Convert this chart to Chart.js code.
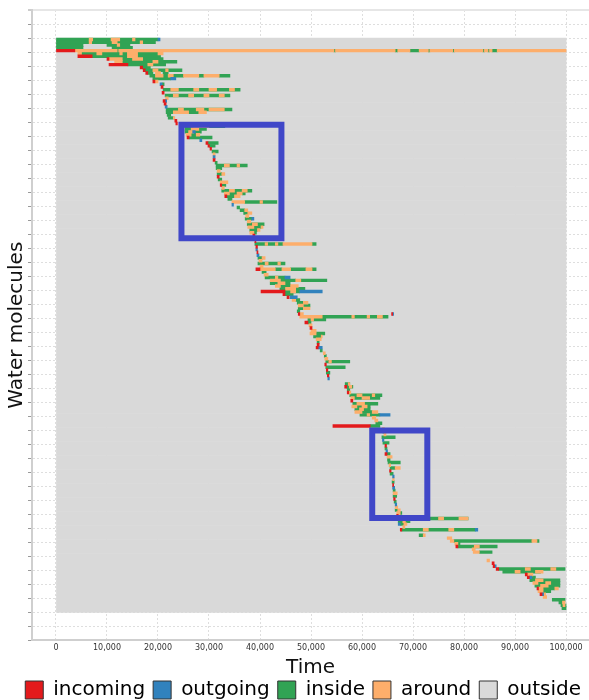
<!DOCTYPE html>
<html>
<head>
<meta charset="utf-8">
<script src="https://cdn.jsdelivr.net/npm/chart.js@4.4.0/dist/chart.umd.min.js"></script>
<style>
  html, body { margin: 0; padding: 0; background: #fff; }
  #wrap { width: 589px; height: 700px; }
</style>
</head>
<body>
<div id="wrap"><canvas id="waterChart"></canvas></div>
<script>
// x axis ticks (simulation steps)
const timeTicks = [0, 10000, 20000, 30000, 40000, 50000, 60000, 70000, 80000, 90000, 100000];
const timeEnd = 100000;

// molecule rows, top to bottom
const firstMolecule = 10;
const lastMolecule = 214;

// [molecule row, start, end], times in thousands of steps
const incoming = [
  [14, 0, 3.7], [16, 4.3, 7.1], [17, 10, 10.4], [19, 10.4, 14.1], [20, 16.5, 17],
  [21, 17.1, 17.5], [22, 17.6, 18], [25, 19, 19.4], [27, 20.6, 21], [29, 20.8, 21.2],
  [32, 21, 21.4], [33, 21.2, 21.6], [39, 23.3, 23.7], [40, 23.5, 23.8], [45, 25.7, 26.1],
  [47, 29.4, 29.8], [48, 29.8, 30.1], [49, 30.2, 30.5], [53, 30.8, 31.2], [59, 31.6, 32],
  [62, 32.2, 32.5], [66, 33.1, 33.5], [80, 38.6, 39], [81, 38.8, 39.1], [82, 39, 39.2],
  [84, 39.2, 39.5], [86, 39.4, 39.6], [92, 39.2, 40], [100, 40.2, 44.9], [101, 44.5, 44.9],
  [102, 45.3, 45.7], [108, 47.5, 47.8], [108, 65.8, 66], [111, 48.8, 49.4], [113, 49.8, 50.2],
  [119, 51.2, 51.6], [120, 51, 51.4], [126, 52.7, 53], [128, 53, 53.3], [130, 53.2, 53.5],
  [134, 56.6, 57], [136, 57.1, 57.4], [139, 57.8, 58.2], [148, 54.3, 61.6], [155, 64.5, 64.8],
  [158, 64.5, 64.9], [164, 65.4, 65.7], [169, 66, 66.2], [174, 66.2, 66.5], [180, 66.8, 67.1],
  [185, 67.5, 67.8], [191, 78.4, 78.8], [197, 85.5, 85.9], [198, 85.7, 86], [199, 86.3, 86.8],
  [201, 92, 92.4], [202, 92.4, 92.8], [206, 94.3, 94.6], [208, 94.9, 95.3]
];

const outgoing = [
  [10, 20, 20.4], [24, 22.5, 23.5], [26, 20.4, 20.8], [32, 21.4, 21.7], [34, 21.4, 21.8],
  [43, 26.8, 27.3], [46, 28.2, 28.6], [52, 30.8, 31.2], [69, 34.5, 34.8], [74, 38.4, 38.8],
  [85, 39.2, 39.5], [87, 39.4, 39.8], [95, 44.9, 45.9], [100, 47.8, 52.2], [102, 45.9, 47.3],
  [108, 66, 66.2], [120, 51.4, 52.2], [131, 53.3, 53.6], [144, 63.5, 65.5], [153, 64, 64.3],
  [157, 64.7, 65], [166, 66, 66.3], [170, 66, 66.4], [176, 66.5, 66.8], [183, 67.1, 67.5],
  [185, 82.2, 82.7], [198, 86, 86.3], [202, 92.8, 93.3], [208, 95.3, 95.6]
];

const inside = [
  [10, 0, 20], [11, 0, 19.5], [12, 0, 5.3], [12, 10, 14.5], [13, 0, 5.3], [13, 11, 15],
  [14, 12, 12.3], [14, 54.5, 54.8], [14, 66.5, 67], [14, 69.4, 71.2], [14, 73, 73.3],
  [14, 77.8, 78.1], [14, 83.7, 84], [14, 84.7, 85], [14, 85.5, 86.5],
  [15, 5, 20], [16, 7.1, 20.5], [17, 13, 21], [18, 13, 23.7], [19, 14.1, 21.5], [20, 17, 18.5],
  [21, 17.5, 24.7], [22, 18, 19], [22, 21, 22], [23, 18.4, 25], [23, 28, 29], [23, 32, 34.1],
  [24, 19, 22.5], [26, 20.8, 21.2], [28, 21, 36.1], [30, 21.4, 34.1], [35, 21.6, 34.5],
  [36, 21.6, 23], [36, 26, 28], [37, 21.8, 22.5], [38, 22, 23], [41, 25.3, 33.1],
  [42, 25.3, 29.5], [43, 25.3, 26], [43, 27.3, 28.5], [44, 26.5, 27.5], [45, 26.1, 30.6],
  [47, 29.8, 31.8], [48, 30.1, 31.2], [50, 30.6, 31.8], [54, 31.2, 31.6], [55, 31.4, 37.5],
  [56, 31.4, 32.5], [58, 31.6, 32.5], [60, 31.8, 32.5], [62, 32.5, 33.3], [64, 32.5, 38.4],
  [65, 34, 35.5], [65, 36.5, 37.1], [66, 33.5, 35], [67, 33.7, 34.5], [68, 37, 43.3],
  [70, 35.5, 36], [71, 36.1, 37], [72, 36.8, 37.6], [74, 37.1, 38.4], [76, 37.5, 40.8],
  [77, 38.8, 40.2], [78, 38, 39.5], [79, 38.8, 39.3], [83, 39, 44.5], [83, 50.2, 51],
  [88, 39.6, 40.4], [90, 39.6, 44.9], [92, 43, 44.3], [92, 46, 49], [92, 50.2, 51],
  [93, 40.4, 41.2], [95, 41, 44.9], [96, 44, 47], [96, 48, 53.1], [97, 42, 43.5],
  [97, 44.9, 45.9], [98, 44, 46], [99, 43.9, 45], [99, 47, 48.8], [100, 44.9, 47.8],
  [101, 44.9, 46.5], [103, 47, 47.8], [104, 47.3, 48.5], [105, 48.5, 49.8], [106, 47.5, 48.5],
  [107, 47.3, 47.8], [109, 52.2, 65.1], [110, 49.4, 52.9], [111, 49.4, 50], [115, 51, 52.7],
  [116, 50.5, 52], [118, 51.2, 51.6], [121, 51.8, 52.2], [123, 52.6, 53], [125, 52.9, 57.6],
  [127, 52.9, 56.7], [129, 53, 53.7], [133, 56.7, 57.6], [134, 57, 58.2], [135, 57.1, 57.6],
  [137, 57.6, 63.9], [138, 58.5, 63.5], [140, 58.2, 63.1], [141, 59, 61.6], [142, 58.6, 61.6],
  [143, 60, 62], [144, 59.6, 63.5], [147, 62.7, 63.9], [148, 61.6, 63.5], [150, 64.1, 64.6],
  [152, 63.9, 66.5], [154, 64.1, 65.3], [156, 64.5, 64.9], [158, 64.9, 65.5], [160, 65, 65.5],
  [161, 65.1, 67.5], [163, 65.5, 66.5], [165, 65.5, 66.1], [168, 65.9, 66.3], [171, 66.1, 66.5],
  [173, 66.1, 66.8], [175, 66.3, 66.7], [178, 66.5, 67], [179, 67.5, 67.8], [181, 66.9, 80.8],
  [182, 67.1, 69.4], [183, 67.5, 68.2], [185, 67.8, 82.2], [187, 71.2, 72], [189, 78, 93.3],
  [189, 94.3, 94.7], [190, 78.8, 79.2], [191, 78.8, 86.5], [193, 83, 85.5], [199, 86.8, 99.8],
  [200, 87.6, 95], [202, 93.3, 94], [203, 92.9, 98.8], [204, 94.5, 98.8], [205, 93.9, 98.8],
  [206, 95.5, 97.8], [207, 95.5, 97], [210, 97.3, 99.8], [211, 98.6, 99.3], [212, 99, 100],
  [213, 99.2, 100]
];

const around = [
  [10, 6.5, 7.2], [10, 10.8, 12.5], [10, 15, 15.5], [11, 6.5, 7], [11, 11, 12], [11, 16.5, 17],
  [12, 12, 12.5],
  [14, 3.7, 12], [14, 12.3, 54.5], [14, 54.8, 66.5], [14, 67, 69.4], [14, 71.2, 73],
  [14, 73.3, 77.8], [14, 78.1, 83.7], [14, 84, 84.7], [14, 85, 85.5], [14, 86.5, 100],
  [15, 4.3, 5], [15, 8, 9], [15, 12.5, 13], [15, 14, 16], [15, 20, 21], [16, 14, 16],
  [17, 10.4, 13], [17, 15, 17], [18, 11.5, 13], [18, 19, 20], [19, 18, 19], [21, 19, 20],
  [21, 21.5, 22], [22, 19.5, 20.5], [23, 19.5, 21], [23, 22, 23], [23, 25, 28], [23, 29, 32],
  [25, 19.4, 20], [28, 22.5, 24], [28, 27, 28], [28, 30, 31.5], [28, 34, 35], [30, 23, 24],
  [30, 26, 27], [30, 29, 30], [30, 32, 33], [31, 21.5, 22], [35, 24, 25], [35, 27.5, 29],
  [35, 30, 33], [36, 23, 26], [36, 28, 29.5], [38, 23, 23.3], [41, 27, 30], [42, 26.5, 28],
  [43, 26, 27], [44, 25.5, 26.5], [44, 27.5, 28.2], [51, 30.8, 31.2], [55, 33, 34],
  [55, 35.5, 36], [57, 31.6, 32.2], [58, 32.5, 33.1], [61, 32.2, 33.7], [63, 32.5, 33],
  [64, 34, 35], [64, 36.5, 37.5], [65, 33, 34], [65, 35.5, 36.5], [66, 35, 36.1],
  [68, 34.5, 37], [68, 40, 40.5], [71, 37, 37.6], [72, 37.6, 38.4], [73, 37.2, 37.8],
  [75, 37.5, 38.2], [76, 38.5, 39.5], [77, 37.6, 38.8], [77, 40.2, 40.6], [78, 39.5, 40],
  [79, 38, 38.8], [83, 41, 41.5], [83, 43, 43.5], [83, 44.5, 50.2], [88, 40.4, 41],
  [89, 39.8, 40.4], [90, 41, 41.6], [90, 43.5, 44], [91, 40, 40.6], [92, 40, 43],
  [92, 44.3, 46], [92, 49, 50.2], [94, 40.8, 41.6], [95, 43, 43.5], [96, 42, 44], [96, 47, 48],
  [97, 43.5, 44.9], [98, 43, 44], [98, 46, 47.5], [99, 45, 47], [100, 46, 47], [103, 46.3, 47],
  [104, 48.5, 49.4], [105, 47.5, 48.5], [106, 48.5, 49.8], [108, 47.8, 48.5], [109, 47.8, 52.2],
  [109, 58, 58.5], [109, 61, 61.5], [109, 63, 64], [110, 50, 50.5], [112, 49.6, 50.2],
  [114, 50, 51], [115, 49.8, 51], [116, 52, 52.2], [117, 51, 52], [122, 52.4, 52.8],
  [124, 52.7, 53.3], [125, 53.5, 54], [133, 57.3, 57.6], [134, 57.5, 58], [136, 57.4, 57.8],
  [137, 59, 60], [137, 62, 62.5], [138, 57.8, 58.5], [138, 60, 61.5], [140, 59, 60.5],
  [141, 58, 59], [141, 60, 61], [142, 59.5, 60.3], [143, 58.6, 60], [143, 62, 63.1],
  [144, 61, 61.5], [145, 62, 62.7], [146, 62.5, 63.1], [149, 64, 64.4], [151, 64.3, 64.7],
  [159, 64.9, 65.9], [162, 65.3, 65.6], [163, 66.5, 67.5], [167, 66, 66.3], [172, 66.1, 66.9],
  [177, 66.5, 67], [178, 67, 67.5], [179, 66.8, 67.5], [181, 70, 71], [181, 75, 76],
  [181, 79, 80.8], [182, 68, 68.5], [183, 68.2, 68.8], [184, 68, 68.4], [185, 72, 73],
  [185, 77, 78], [187, 72, 72.4], [188, 76.7, 77.6], [189, 77.3, 78], [189, 93.3, 94.3],
  [190, 78.2, 78.8], [191, 82, 83], [192, 81.6, 82.2], [193, 81.8, 83], [196, 84.5, 85],
  [199, 92, 93], [199, 97, 98], [200, 90, 91], [200, 94, 95.5], [201, 92.4, 93.5],
  [203, 94, 95.5], [204, 93.5, 94.5], [204, 96, 97], [205, 95, 96.5], [206, 94.6, 95.5],
  [206, 97.8, 98.5], [207, 94.5, 95.5], [208, 95.6, 96], [209, 95.5, 96.2], [211, 99.3, 99.8],
  [212, 99.4, 99.8]
];

// highlighted windows: [start, end] in thousands of steps, [top row, bottom row]
const boxTimes = [[24.6, 44.2], [62.0, 72.8]];
const boxRows = [[41.0, 81.5], [150.1, 181.3]];

const colors = {
  incoming: '#e31a1c',
  outgoing: '#3182bd',
  inside: '#31a354',
  around: '#fdae6b',
  outside: '#d9d9d9',
  box: '#4047c8'
};

Chart.defaults.font.family = '"DejaVu Sans", Verdana, sans-serif';

function toBars(list) {
  return list.map(([row, t0, t1]) => ({ x: [t0 * 1000, t1 * 1000], y: row + 0.5 }));
}

const outsideBars = [];
for (let m = firstMolecule; m <= lastMolecule; m++) {
  outsideBars.push({ x: [0, timeEnd], y: m + 0.5 });
}

const stateSets = [
  { label: 'incoming', data: toBars(incoming), backgroundColor: colors.incoming, order: 1 },
  { label: 'outgoing', data: toBars(outgoing), backgroundColor: colors.outgoing, order: 2 },
  { label: 'inside', data: toBars(inside), backgroundColor: colors.inside, order: 4 },
  { label: 'around', data: toBars(around), backgroundColor: colors.around, order: 3 },
  { label: 'outside', data: outsideBars, backgroundColor: colors.outside, order: 5 }
];

const boxSets = boxTimes.map(([t0, t1], i) => {
  const [r0, r1] = boxRows[i];
  return {
    type: 'line',
    label: '',
    isBox: true,
    data: [
      { x: t0 * 1000, y: r0 }, { x: t1 * 1000, y: r0 }, { x: t1 * 1000, y: r1 },
      { x: t0 * 1000, y: r1 }, { x: t0 * 1000, y: r0 }
    ],
    borderColor: colors.box,
    borderWidth: 6,
    borderJoinStyle: 'miter',
    borderCapStyle: 'square',
    pointRadius: 0,
    fill: false,
    tension: 0,
    order: 0
  };
});

new Chart(document.getElementById('waterChart'), {
  type: 'bar',
  data: { datasets: [...stateSets, ...boxSets] },
  options: {
    indexAxis: 'y',
    responsive: true,
    maintainAspectRatio: false,
    animation: false,
    events: [],
    // legend box is taller than its content, let it hang past the bottom edge
    layout: { padding: { left: 6, right: 0, top: 10, bottom: -10 } },
    datasets: {
      bar: { grouped: false, barPercentage: 1, categoryPercentage: 1, borderWidth: 0 }
    },
    scales: {
      x: {
        type: 'linear',
        min: -4700,
        max: 104500,
        afterBuildTicks: axis => { axis.ticks = timeTicks.map(v => ({ value: v })); },
        ticks: { font: { size: 8 }, color: '#333', padding: 3, maxRotation: 0 },
        grid: { color: '#dedede', drawTicks: false },
        border: { color: '#cfcfcf', width: 2, dash: [2, 2] },
        title: {
          display: true, text: 'Time', color: '#111',
          font: { size: 20 }, padding: { top: 0, bottom: -8 }
        }
      },
      y: {
        type: 'linear',
        reverse: true,
        offset: false,
        min: 0,
        max: 225,
        ticks: { stepSize: 5, display: false },
        grid: {
          offset: false,
          color: ctx => (ctx.tick && ctx.tick.value === 0) ? '#e6e6e6' : '#dedede',
          lineWidth: ctx => (ctx.tick && ctx.tick.value === 0) ? 2 : 1,
          tickLength: 4,
          tickColor: '#9a9a9a',
          tickWidth: 1
        },
        border: {
          color: '#cfcfcf', width: 2,
          dash: ctx => (ctx.type === 'tick' && ctx.tick.value !== 0) ? [2, 2] : []
        },
        title: {
          display: true, text: 'Water molecules', color: '#111',
          font: { size: 20, lineHeight: 1.1 }, padding: { top: 0, bottom: 0 }
        }
      }
    },
    plugins: {
      tooltip: { enabled: false },
      legend: {
        position: 'bottom',
        align: 'end',
        labels: {
          color: '#111',
          font: { size: 20 },
          boxWidth: 18,
          boxHeight: 18,
          padding: 8,
          generateLabels: chart => chart.data.datasets
            .map((ds, i) => ({
              text: ds.label,
              fillStyle: ds.backgroundColor,
              strokeStyle: '#333',
              lineWidth: 1,
              hidden: false,
              datasetIndex: i
            }))
            .filter(item => !chart.data.datasets[item.datasetIndex].isBox)
        }
      }
    }
  }
});
</script>
</body>
</html>
